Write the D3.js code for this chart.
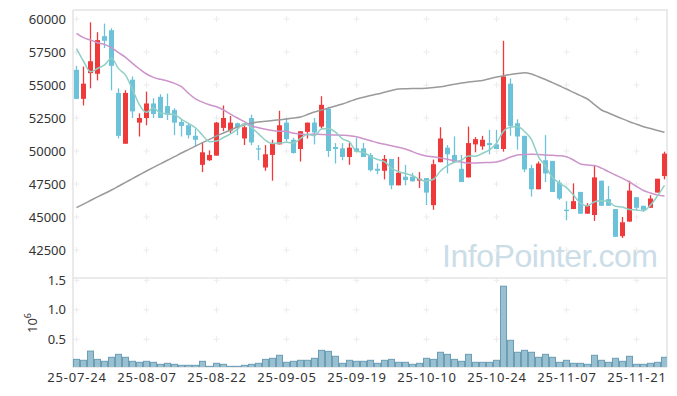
<!DOCTYPE html>
<html lang="en">
<head>
    <meta charset="UTF-8">
    <title>Candles</title>
    <style>
        body { margin: 0; background: #fff; }
        svg { display: block; font-family: 'Noto Sans', sans-serif; }
    </style>
</head>
<body>

    <svg id="svg" width="677" height="396"></svg>

    <script src="https://d3js.org/d3.v7.min.js"></script>
    <script>
        // trading days
        const dates = [
            '25-07-24','25-07-25','25-07-28','25-07-29','25-07-30','25-07-31','25-08-01','25-08-04','25-08-05','25-08-06',
            '25-08-07','25-08-08','25-08-11','25-08-12','25-08-13','25-08-14','25-08-18','25-08-19','25-08-20','25-08-21',
            '25-08-22','25-08-25','25-08-26','25-08-27','25-08-28','25-08-29','25-09-01','25-09-02','25-09-03','25-09-04',
            '25-09-05','25-09-08','25-09-09','25-09-10','25-09-11','25-09-12','25-09-15','25-09-16','25-09-17','25-09-18',
            '25-09-19','25-09-22','25-09-23','25-09-24','25-09-25','25-09-26','25-09-29','25-09-30','25-10-01','25-10-02',
            '25-10-10','25-10-13','25-10-14','25-10-15','25-10-16','25-10-17','25-10-20','25-10-21','25-10-22','25-10-23',
            '25-10-24','25-10-27','25-10-28','25-10-29','25-10-30','25-10-31','25-11-03','25-11-04','25-11-05','25-11-06',
            '25-11-07','25-11-10','25-11-11','25-11-12','25-11-13','25-11-14','25-11-17','25-11-18','25-11-19','25-11-20',
            '25-11-21','25-11-24','25-11-25','25-11-26','25-11-27'
        ]

        const opens = [
            56150,53950,55900,55850,58700,59150,54400,50550,55400,52150,
            52500,53600,54100,53400,53100,52200,51950,51150,48950,49300,
            49650,51750,51550,52100,50950,52500,50200,48750,49700,50500,
            52150,50850,50150,51450,52150,51850,53200,50300,50200,49550,
            50200,50200,49700,48650,48500,49400,47400,48050,48050,47750,
            47950,45900,49150,50250,49700,48650,48000,50500,50350,50600,
            50500,50150,55100,52100,51150,48700,47100,49300,49250,47600,
            45550,45600,46900,45250,45150,47750,46350,45600,43550,44650,
            46500,45850,45700,46850,48100
        ]
        const highs = [
            56450,56400,59750,59000,59650,59300,54750,54600,55650,52850,
            54500,54000,54300,54350,53250,52350,52100,51700,50650,50050,
            52200,53450,52650,52150,51900,52750,50450,50450,50850,53050,
            52500,51000,51500,52150,52500,54150,53350,50600,50600,50600,
            51000,50600,49850,49050,49700,49400,49550,48950,48350,48400,
            47950,49350,51800,50450,51100,49700,51850,51050,51150,51600,
            51600,58350,55500,52400,51150,48950,49200,51200,49250,47800,
            46200,47550,46900,46050,48900,47750,47350,45600,45000,47750,
            46500,45850,46650,47900,49950
        ]
        const lows = [
            53950,53450,54750,55350,57800,54600,50950,50550,52500,51100,
            51950,52500,52500,52350,51200,51100,50950,50350,48400,49250,
            49650,51500,51350,51200,50450,50450,49300,48500,47750,50500,
            50700,49800,49200,50950,50500,51700,49550,49050,49300,48950,
            49900,49550,48450,48250,47850,47100,47400,47400,47700,47200,
            45900,45550,49150,48300,49150,47650,48000,49900,50100,49750,
            50150,49950,51150,50100,48400,46550,47100,47650,46900,46300,
            44750,45600,45250,45250,44700,45850,45850,43500,43400,44650,
            45550,45400,45700,46850,47850
        ]
        const closes = [
            53950,55100,56800,58400,58350,56450,51150,54400,53000,52500,
            53600,52800,52500,52750,52150,51900,51200,50850,49900,49700,
            52150,52500,52150,51750,51800,50650,50150,49750,50550,51950,
            50900,49850,51500,52150,51400,53500,50000,50150,49550,50250,
            49950,49550,48550,48500,49400,47400,48350,47800,47700,47900,
            46850,49000,50950,49750,49150,47650,50600,50900,50850,50450,
            50150,55650,51900,51100,48600,47100,49050,48300,46900,46400,
            45450,46200,45250,45900,48000,45850,45850,43500,44600,47000,
            45700,45550,46400,47900,49800
        ]
        const volumes = [
            160000,144000,300000,160000,127000,195000,245000,195000,127000,110000,
            127000,110000,76000,93000,76000,59000,59000,59000,127000,42000,
            93000,76000,42000,42000,59000,76000,93000,160000,178000,229000,
            110000,127000,144000,144000,178000,313000,296000,212000,93000,144000,
            127000,127000,144000,93000,144000,160000,110000,110000,76000,93000,
            178000,160000,280000,245000,160000,127000,245000,110000,110000,110000,
            144000,1400000,483000,280000,313000,280000,195000,245000,195000,110000,
            144000,93000,93000,76000,229000,144000,110000,178000,127000,212000,
            76000,76000,93000,110000,195000
        ]

        // moving averages
        const ma5 = [
            57750,56800,56000,56250,56520,57020,56240,55750,54670,53500,
            52930,53260,52870,52820,52750,52400,52090,51760,51200,50710,
            50760,51020,51290,51660,52080,51770,51300,50810,50570,50600,
            50660,50600,50950,51270,51160,51670,51710,51430,50920,50690,
            49980,49900,49580,49360,49190,48690,48440,48290,48140,47840,
            47730,47860,48490,48900,49150,49310,49620,49610,49830,50090,
            50590,51500,51800,51850,51480,50870,49560,48840,48000,47560,
            47230,46660,46050,45840,46160,46240,46160,45810,45760,45560,
            45530,45470,45900,46600,47400
        ]
        const ma20 = [
            58914,58586,58409,58207,58080,57828,57449,57096,56641,56212,
            55833,55580,55430,55303,55126,54871,54370,53950,53700,53500,
            53350,53106,52800,52500,52220,51894,51760,51650,51560,51500,
            51480,51340,51280,51240,51280,51250,51230,51210,51190,51160,
            51083,50932,50780,50629,50505,50400,50280,50152,49950,49747,
            49621,49570,49480,49373,49250,49167,49091,49091,49114,49129,
            49167,49318,49545,49697,49735,49750,49735,49697,49674,49644,
            49568,49318,49015,48939,48900,48700,48432,48182,47932,47652,
            47311,47008,46818,46667,46591
        ]
        const ma60 = [
            45705,45980,46250,46520,46780,47045,47330,47620,47910,48200,
            48485,48760,49030,49300,49570,49848,50110,50370,50630,50880,
            51136,51360,51590,51818,51980,52121,52190,52250,52311,52370,
            52424,52500,52576,52760,52955,53100,53258,53410,53561,53750,
            53939,54070,54200,54318,54450,54580,54697,54720,54735,54740,
            54750,54810,54871,54960,55060,55152,55220,55280,55341,55470,
            55606,55700,55795,55870,55932,55833,55630,55417,55180,54940,
            54697,54440,54190,53939,53520,53106,52880,52652,52430,52220,
            52030,51841,51700,51560,51417
        ]

        const priceTicks = [42500, 45000, 47500, 50000, 52500, 55000, 57500, 60000]
        const volumeTicks = [500000, 1000000, 1500000]
        const dateTicks = ['25-07-24','25-08-07','25-08-22','25-09-05','25-09-19','25-10-10','25-10-24','25-11-07','25-11-21']

        const upColor = '#ef3a3c'
        const downColor = '#6cc2d9'

        const svg = d3.select('#svg')

        // panel edges
        const pLeft = 73, pRight = 667, pTop = 10, pMid = 278, pBottom = 367

        const xScale = d3.scalePoint()
            .domain(dates)
            .range([76.5, 664.5])

        const yScale = d3.scaleLinear()
            .domain([42500, 60000])
            .range([250, 19])

        const vScale = d3.scaleLinear()
            .domain([0, 1500000])
            .range([368.8, 280.3])

        const defs = svg.append('defs')
        defs.append('clipPath').attr('id', 'clipPrice')
            .append('rect').attr('x', pLeft).attr('y', pTop).attr('width', pRight - pLeft).attr('height', pMid - pTop)
        defs.append('clipPath').attr('id', 'clipVol')
            .append('rect').attr('x', pLeft).attr('y', pMid).attr('width', pRight - pLeft).attr('height', pBottom - pMid)

        // watermark
        svg.append('text')
            .text('InfoPointer.com')
            .attr('x', 442)
            .attr('y', 267)
            .attr('textLength', 216)
            .style('font-family', 'Liberation Sans, sans-serif')
            .style('font-size', '32px')
            .attr('fill', '#cbdde7')

        // grid crosses
        const cross = (x, y) => `M${x - 3},${y}H${x + 3}M${x},${y - 3}V${y + 3}`
        const gridPts = []
        dateTicks.forEach(d => {
            priceTicks.forEach(p => gridPts.push(cross(xScale(d), yScale(p))))
            volumeTicks.forEach(v => gridPts.push(cross(xScale(d), vScale(v))))
        })
        svg.append('path')
            .attr('d', gridPts.join(''))
            .attr('stroke', '#ececec')
            .attr('stroke-width', 1)
            .attr('fill', 'none')

        // frame
        const frame = svg.append('g').attr('stroke', '#e4e4e4').attr('stroke-width', 1.5).attr('fill', 'none')
        frame.append('path').attr('d', `M${pLeft},${pTop}H${pRight}V${pBottom}`)
        frame.append('path').attr('d', `M${pLeft},${pTop}V${pBottom}H${pRight}`)
        frame.append('path').attr('d', `M${pLeft},${pMid}H${pRight}`)

        const data = dates.map((d, i) => ({
            date: d, open: opens[i], high: highs[i], low: lows[i], close: closes[i], volume: volumes[i]
        }))

        // volume bars
        const step = xScale.step()
        svg.append('g')
            .attr('clip-path', 'url(#clipVol)')
            .selectAll('rect')
            .data(data)
            .enter()
            .append('rect')
            .attr('x', d => xScale(d.date) - step / 2 + 0.5)
            .attr('y', d => vScale(d.volume))
            .attr('width', step - 1)
            .attr('height', d => vScale(0) - vScale(d.volume))
            .attr('fill', '#98c0d0')
            .attr('stroke', '#6b9db5')
            .attr('stroke-width', 1)

        // candles
        const candles = svg.append('g')
            .attr('clip-path', 'url(#clipPrice)')
            .selectAll('g')
            .data(data)
            .enter()
            .append('g')
            .attr('fill', d => d.close >= d.open ? upColor : downColor)
            .attr('stroke', d => d.close >= d.open ? upColor : downColor)

        candles.append('line')
            .attr('x1', d => xScale(d.date))
            .attr('x2', d => xScale(d.date))
            .attr('y1', d => yScale(d.high))
            .attr('y2', d => yScale(d.low))
            .attr('stroke-width', 1.3)

        candles.append('rect')
            .attr('x', d => xScale(d.date) - 2.5)
            .attr('y', d => yScale(Math.max(d.open, d.close)))
            .attr('width', 5)
            .attr('height', d => Math.max(1.2, Math.abs(yScale(d.open) - yScale(d.close))))
            .attr('stroke', 'none')

        // moving average lines
        const maLine = values => d3.line()
            .x((v, i) => xScale(dates[i]))
            .y(v => yScale(v))
            .curve(d3.curveMonotoneX)(values)

        const lines = svg.append('g').attr('clip-path', 'url(#clipPrice)').attr('fill', 'none')
        lines.append('path').attr('d', maLine(ma60)).attr('stroke', '#9a9a9a').attr('stroke-width', 1.5)
        lines.append('path').attr('d', maLine(ma20)).attr('stroke', '#cd93cb').attr('stroke-width', 1.5)
        lines.append('path').attr('d', maLine(ma5)).attr('stroke', '#8fcfc6').attr('stroke-width', 1.5)

        // axes
        const styleAxis = g => {
            g.select('.domain').remove()
            g.selectAll('text')
                .style('font-family', 'Noto Sans, sans-serif')
                .style('font-size', '13px')
                .attr('fill', '#333')
        }

        svg.append('g')
            .attr('transform', `translate(${pLeft},0)`)
            .call(d3.axisLeft(yScale).tickValues(priceTicks).tickSize(0).tickPadding(7).tickFormat(d3.format('d')))
            .call(styleAxis)

        svg.append('g')
            .attr('transform', `translate(${pLeft},0)`)
            .call(d3.axisLeft(vScale).tickValues(volumeTicks).tickSize(0).tickPadding(7).tickFormat(v => d3.format('.1f')(v / 1e6)))
            .call(styleAxis)

        svg.append('g')
            .attr('transform', `translate(0,${pBottom})`)
            .call(d3.axisBottom(xScale).tickValues(dateTicks).tickSize(0).tickPadding(6))
            .call(styleAxis)
            .selectAll('text')
            .style('letter-spacing', '0.8px')

        // volume unit
        const unit = svg.append('text')
            .attr('transform', 'translate(37,323) rotate(-90)')
            .attr('text-anchor', 'middle')
            .style('font-size', '13px')
            .attr('fill', '#333')
        unit.append('tspan').text('10')
        unit.append('tspan').text('6').attr('dy', -6).style('font-size', '9px')
    </script>
</body>
</html>
